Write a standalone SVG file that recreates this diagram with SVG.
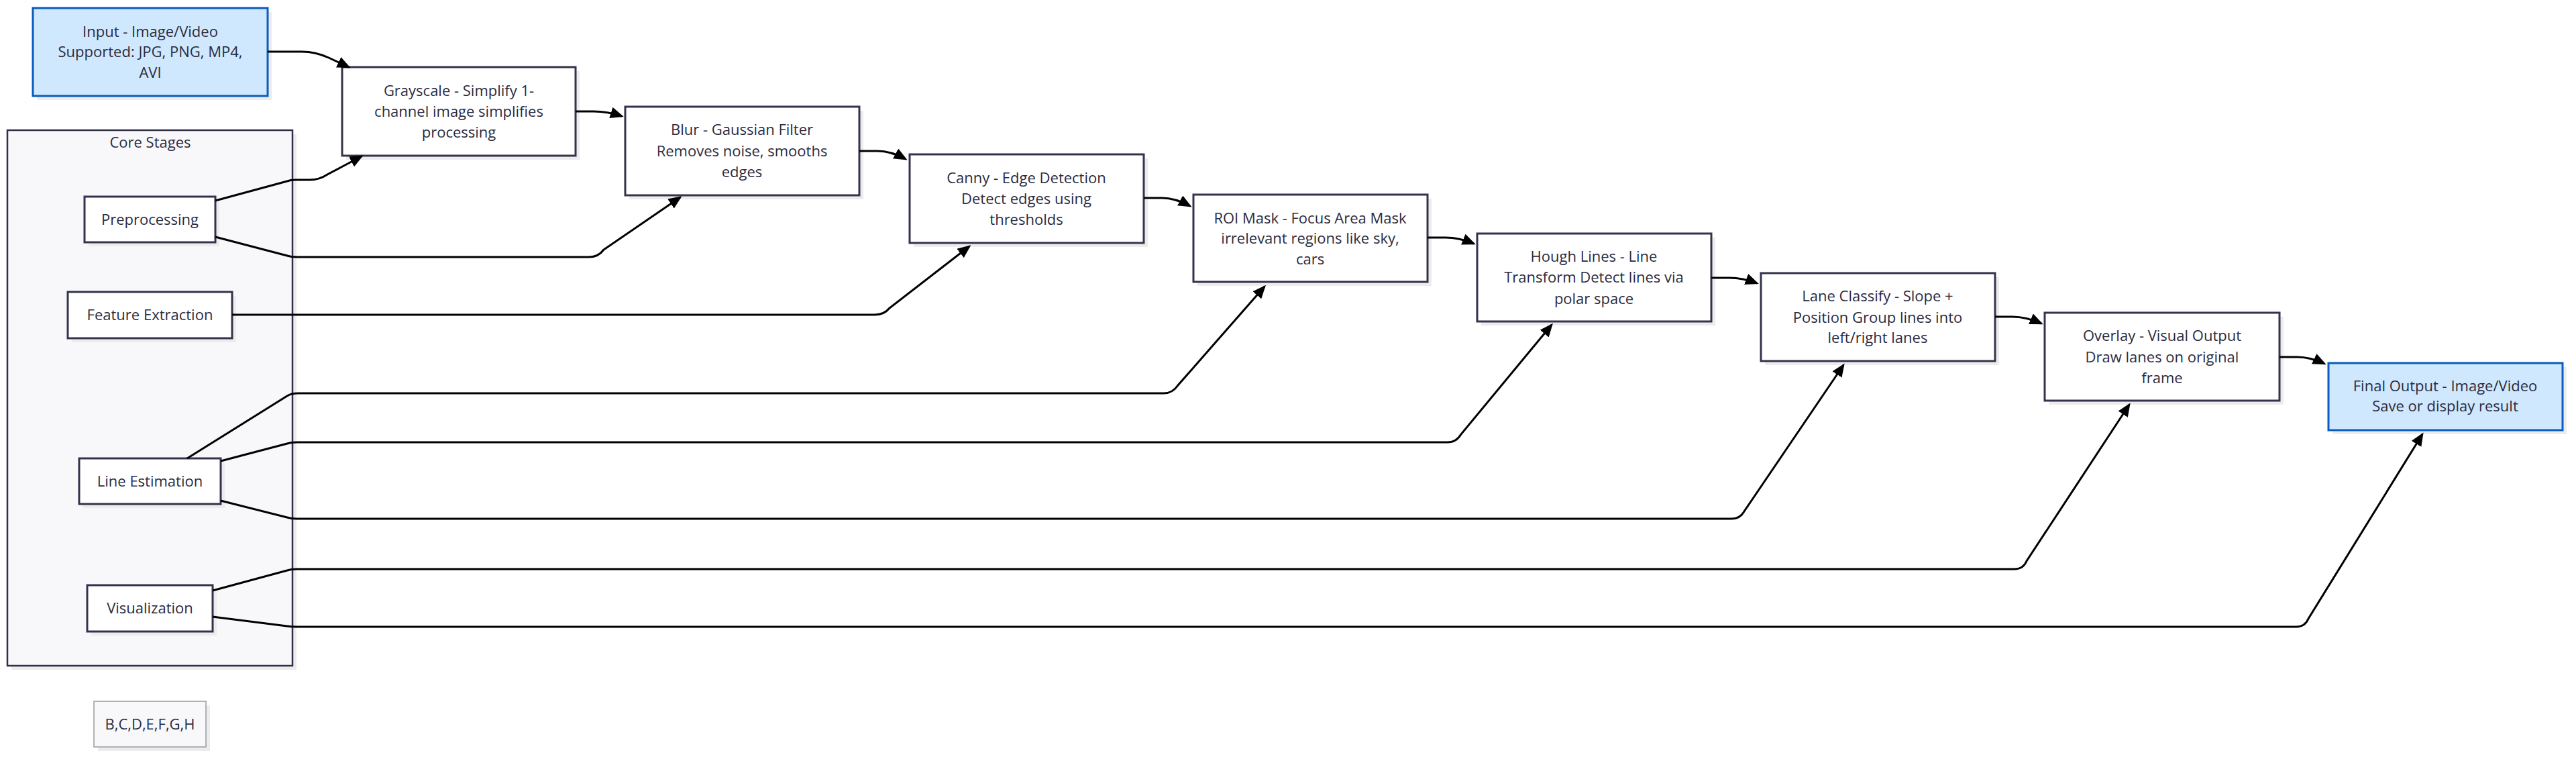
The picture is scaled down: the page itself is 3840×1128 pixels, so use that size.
<svg xmlns="http://www.w3.org/2000/svg" width="3840" height="1128" viewBox="0 0 3840 1128">
<defs>
<marker id="arrow" markerUnits="userSpaceOnUse" viewBox="0 0 20 17" markerWidth="20" markerHeight="17" refX="17" refY="8.5" orient="auto">
<path d="M0,0 L20,8.5 L0,17 z" fill="#000"/>
</marker>
</defs>
<style>
.node rect.box{fill:#ffffff;stroke:#33334d;stroke-width:3}
.node rect.shadow{fill:#ececec;stroke:none}
.io rect.box{fill:#cfe8fd;stroke:#0b5cbd;stroke-width:3}
.cluster rect.box{fill:#f8f8fa;stroke:#2e2e48;stroke-width:2.5}
.note rect.box{fill:#f8f8fa;stroke:#9a9aa2;stroke-width:1.5}
text{font-family:"Open Sans","Noto Sans","Liberation Sans",sans-serif;font-size:22px;fill:#2b2b40;text-anchor:middle}
.edges path{fill:none;stroke:#000;stroke-width:3;marker-end:url(#arrow)}
</style>
<rect width="3840" height="1128" fill="#ffffff"/>

<g id="cluster-core" class="cluster node">
<rect class="shadow" x="17" y="200" width="425" height="798"/>
<rect class="box" x="11" y="194" width="425" height="798"/>
<text x="224" y="220">Core Stages</text>
</g>

<g id="node-input" class="node io">
<rect class="shadow" x="55" y="18" width="350" height="131"/>
<rect class="box" x="49" y="12" width="350" height="131"/>
<text x="224" y="55">Input - Image/Video</text>
<text x="224" y="85">Supported: JPG, PNG, MP4,</text>
<text x="224" y="116">AVI</text>
</g>

<g id="node-grayscale" class="node">
<rect class="shadow" x="516" y="106" width="348" height="132"/>
<rect class="box" x="510" y="100" width="348" height="132"/>
<text x="684" y="143">Grayscale - Simplify 1-</text>
<text x="684" y="174">channel image simplifies</text>
<text x="684" y="205">processing</text>
</g>

<g id="node-blur" class="node">
<rect class="shadow" x="938" y="165" width="349" height="132"/>
<rect class="box" x="932" y="159" width="349" height="132"/>
<text x="1106" y="201">Blur - Gaussian Filter</text>
<text x="1106" y="233">Removes noise, smooths</text>
<text x="1106" y="264">edges</text>
</g>

<g id="node-canny" class="node">
<rect class="shadow" x="1362" y="236" width="349" height="132"/>
<rect class="box" x="1356" y="230" width="349" height="132"/>
<text x="1530" y="273">Canny - Edge Detection</text>
<text x="1530" y="304">Detect edges using</text>
<text x="1530" y="335">thresholds</text>
</g>

<g id="node-roi" class="node">
<rect class="shadow" x="1785" y="296" width="349" height="130"/>
<rect class="box" x="1779" y="290" width="349" height="130"/>
<text x="1953" y="333">ROI Mask - Focus Area Mask</text>
<text x="1953" y="363">irrelevant regions like sky,</text>
<text x="1953" y="394">cars</text>
</g>

<g id="node-hough" class="node">
<rect class="shadow" x="2208" y="354" width="349" height="131"/>
<rect class="box" x="2202" y="348" width="349" height="131"/>
<text x="2376" y="390">Hough Lines - Line</text>
<text x="2376" y="421">Transform Detect lines via</text>
<text x="2376" y="453">polar space</text>
</g>

<g id="node-lane" class="node">
<rect class="shadow" x="2631" y="413" width="349" height="131"/>
<rect class="box" x="2625" y="407" width="349" height="131"/>
<text x="2799" y="449">Lane Classify - Slope +</text>
<text x="2799" y="481">Position Group lines into</text>
<text x="2799" y="511">left/right lanes</text>
</g>

<g id="node-overlay" class="node">
<rect class="shadow" x="3054" y="472" width="350" height="131"/>
<rect class="box" x="3048" y="466" width="350" height="131"/>
<text x="3223" y="508">Overlay - Visual Output</text>
<text x="3223" y="540">Draw lanes on original</text>
<text x="3223" y="571">frame</text>
</g>

<g id="node-final" class="node io">
<rect class="shadow" x="3477" y="547" width="349" height="100"/>
<rect class="box" x="3471" y="541" width="349" height="100"/>
<text x="3645" y="583">Final Output - Image/Video</text>
<text x="3645" y="613">Save or display result</text>
</g>

<g id="node-preprocessing" class="node">
<rect class="shadow" x="132" y="299" width="195" height="68"/>
<rect class="box" x="126" y="293" width="195" height="68"/>
<text x="223.5" y="335">Preprocessing</text>
</g>

<g id="node-feature" class="node">
<rect class="shadow" x="107" y="441" width="245" height="69"/>
<rect class="box" x="101" y="435" width="245" height="69"/>
<text x="223.5" y="477">Feature Extraction</text>
</g>

<g id="node-line" class="node">
<rect class="shadow" x="124" y="689" width="211" height="68"/>
<rect class="box" x="118" y="683" width="211" height="68"/>
<text x="223.5" y="725">Line Estimation</text>
</g>

<g id="node-visualization" class="node">
<rect class="shadow" x="136" y="878" width="187" height="69"/>
<rect class="box" x="130" y="872" width="187" height="69"/>
<text x="223.5" y="914">Visualization</text>
</g>

<g id="node-note" class="node note">
<rect class="shadow" x="146" y="1051" width="167" height="68"/>
<rect class="box" x="140" y="1045" width="167" height="68"/>
<text x="223.5" y="1087">B,C,D,E,F,G,H</text>
</g>

<g id="connectors" class="edges">
<path d="M399,77 L450,77 Q470,77 490,86 L520,100"/>
<path d="M858,166 L885,166 Q905,166 927,173"/>
<path d="M1281,225 L1308,225 Q1328,225 1350,237"/>
<path d="M1705,295 L1732,295 Q1752,295 1774,307"/>
<path d="M2128,354 L2155,354 Q2175,354 2197,363"/>
<path d="M2551,414 L2578,414 Q2598,414 2619,422"/>
<path d="M2974,472 L3000,472 Q3020,472 3043,482"/>
<path d="M3398,532 L3424,532 Q3444,532 3465,542"/>
<path d="M321,299 L428,270 Q433,268 440,268 L462,268 Q476,268 488,260 L539,233"/>
<path d="M321,353 L428,381 Q434,383 442,383 L878,383 Q892,383 900,372 L1014,294"/>
<path d="M346,469 L1304,469 Q1318,469 1326,459 L1445,367"/>
<path d="M279,683 L428,590 Q434,586 445,586 L1735,586 Q1748,586 1756,574 L1885,427"/>
<path d="M329,687 L428,661 Q434,659 442,659 L2158,659 Q2171,659 2178,647 L2313,484"/>
<path d="M329,746 L428,771 Q434,773 442,773 L2581,773 Q2594,773 2600,762 L2748,544"/>
<path d="M317,880 L428,850 Q434,848 442,848 L3003,848 Q3016,848 3021,836 L3174,603"/>
<path d="M317,919 L428,933 Q434,934 442,934 L3423,934 Q3436,934 3441,922 L3611,647"/>
</g>
</svg>
